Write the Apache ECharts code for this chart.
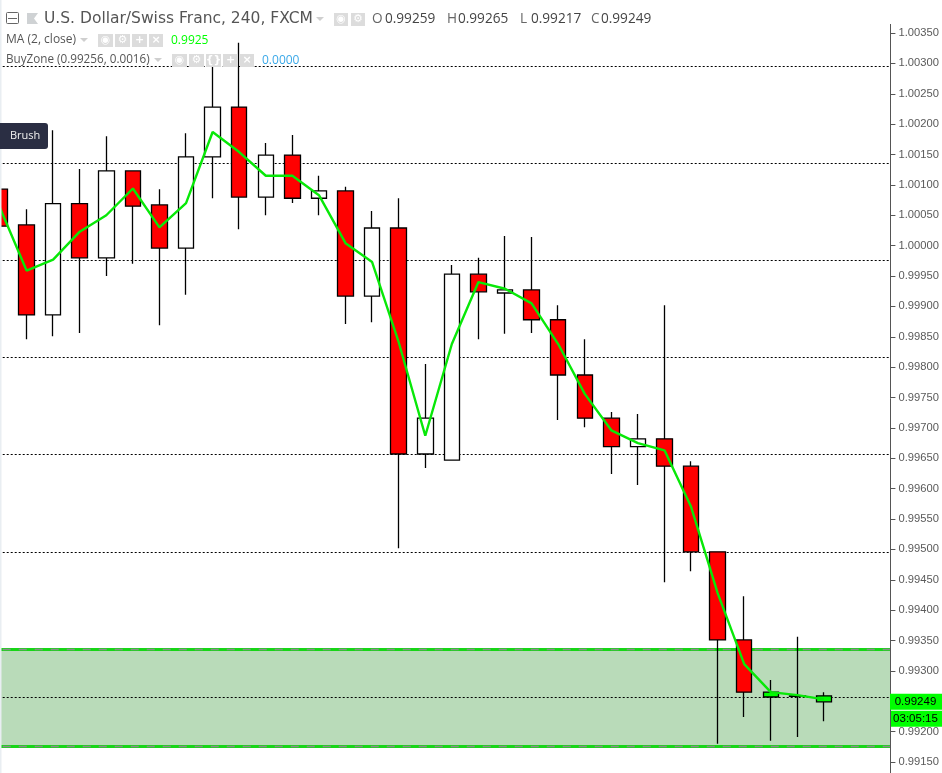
<!DOCTYPE html>
<html><head><meta charset="utf-8">
<style>html,body{margin:0;padding:0;background:#fff}#c{width:942px;height:773px}</style>
<script src="https://cdn.jsdelivr.net/npm/echarts@6/dist/echarts.min.js"></script>
</head><body><div id="c"></div>
<script>
const categories = Array.from('abcdefghijklmnopqrstuvwxyz012345');
const opens  = [1.00093,1.00034,0.99886,1.00069,0.99980,1.00123,1.00067,0.99996,1.00146,1.00228,1.00080,1.00149,1.00078,1.00090,0.99917,1.00029,0.99657,0.99647,0.99953,0.99922,0.99927,0.99878,0.99787,0.99716,0.99669,0.99682,0.99637,0.99496,0.99351,0.99257,0.99258,0.99259];
const closes = [1.00032,0.99886,1.00069,0.99980,1.00123,1.00065,0.99996,1.00146,1.00228,1.00080,1.00149,1.00078,1.00090,0.99917,1.00029,0.99657,0.99716,0.99953,0.99924,0.99927,0.99878,0.99787,0.99716,0.99669,0.99682,0.99637,0.99496,0.99351,0.99265,0.99265,0.99259,0.99249];
const lows   = [1.00032,0.99846,0.99851,0.99856,0.99950,0.99970,0.99869,0.99919,1.00078,1.00027,1.00050,1.00070,1.00050,0.99871,0.99874,0.99502,0.99634,0.99647,0.99846,0.99855,0.99856,0.99713,0.99701,0.99624,0.99606,0.99446,0.99464,0.99180,0.99224,0.99185,0.99191,0.99217];
const highs  = [1.00093,1.00060,1.00190,1.00126,1.00180,1.00124,1.00093,1.00185,1.00306,1.00334,1.00169,1.00182,1.00115,1.00097,1.00057,1.00078,0.99805,0.99968,0.99980,1.00016,1.00014,0.99902,0.99846,0.99726,0.99723,0.99902,0.99645,0.99496,0.99423,0.99285,0.99356,0.99265];
const maValues = [1.00062,0.99959,0.99977,1.00023,1.00050,1.00094,1.00030,1.00070,1.00187,1.00154,1.00115,1.00115,1.00083,1.00004,0.99973,0.99841,0.99687,0.99838,0.99940,0.99929,0.99905,0.99838,0.99756,0.99696,0.99675,0.99663,0.99570,0.99428,0.99311,0.99265,0.99260,0.99253];
const levels = [1.00296,1.00136,0.99976,0.99816,0.99656,0.99496,0.99256];
const zoneTop = 0.99336, zoneBottom = 0.99176;
const lastPrice = 0.99249;
const countdown = '03:05:15';
const titleText = 'U.S. Dollar/Swiss Franc, 240, FXCM';
const maText = 'MA (2, close)', maValueText = '0.9925';
const zoneText = 'BuyZone (0.99256, 0.0016)', zoneValueText = '0.0000';
const ohlc = [['O','0.99259'],['H','0.99265'],['L','0.99217'],['C','0.99249']];
const ohlcLetterX = [372,447,520,591];
const ohlcValueX = [385,458,531,601];
const zoneStart = 29;

const sans = '"Open Sans","Noto Sans",sans-serif';
const chart = echarts.init(document.getElementById('c'), null, {renderer:'canvas'});
const candleData = categories.map((_, i) => {
  const item = {value:[opens[i],closes[i],lows[i],highs[i]]};
  if (i >= zoneStart) item.itemStyle = {color:'#00ff00',color0:'#00ff00',borderColor:'#000',borderColor0:'#000'};
  return item;
});
function txt(x,y,t,size,fill,extra){return Object.assign({type:'text',z:50,x:x,y:y,style:{text:t,fontSize:size,fontFamily:sans,fill:fill,textVerticalAlign:'middle'}},extra||{});}
function box(x,y,w,h,glyph){
  const out=[{type:'rect',z:50,shape:{x:x,y:y,width:w,height:h},style:{fill:'#dcdcdc'}}];
  out.push({type:'text',z:51,x:x+w/2,y:y+h/2,style:{text:glyph,fontSize:11,fontWeight:'bold',fontFamily:'"DejaVu Sans"',fill:'#fff',textAlign:'center',textVerticalAlign:'middle'}});
  return out;
}
function tri(x,y){return {type:'polygon',z:50,shape:{points:[[x,y],[x+8,y],[x+4,y+4]]},style:{fill:'#cfcfcf'}};}
const head=[
 {type:'rect',z:45,shape:{x:0,y:0,width:1.5,height:773},style:{fill:'#e9eef2'}},
 {type:'line',z:40,shape:{x1:890.5,y1:24,x2:890.5,y2:773},style:{stroke:'#555',lineWidth:1}},
 {type:'rect',z:50,shape:{x:6.5,y:12.5,width:12,height:11,r:1},style:{fill:'#fff',stroke:'#666'}},
 {type:'line',z:50,shape:{x1:8,y1:18.5,x2:17,y2:18.5},style:{stroke:'#666'}},
 {type:'polygon',z:50,shape:{points:[[27,13],[38,13],[34,18.5],[38,24],[27,24]]},style:{fill:'#cfd2d4'}},
 txt(44,19,titleText,15.5,'#555',{style:{text:titleText,fontSize:15.5,fontFamily:'"DejaVu Sans"',fill:'#555',textVerticalAlign:'middle'}}),
 tri(316,17),
 ...box(334,13,14,13,'◉'),...box(351,13,14,13,'⚙'),
 txt(6,40,maText,12,'#555'), tri(80,38),
 ...box(98,34,15,13,'◉'),...box(115,34,15,13,'⚙'),...box(132,34,15,13,'+'),...box(149,34,14,13,'×'),
 txt(171,41,maValueText,12,'#00ff00'),
 txt(6,60,zoneText,11.7,'#555'), tri(154,58),
 ...box(172,54,15,13,'◉'),...box(189,54,15,13,'⚙'),...box(206,54,15,13,'{}'),...box(223,54,15,13,'+'),...box(240,54,14,13,'×'),
 txt(262,61,zoneValueText,12,'#3aa8e8'),
 {type:'rect',z:50,shape:{x:-4,y:123,width:52,height:26,r:3},style:{fill:'#2a2e43'}},
 txt(10,136,'Brush',11,'#f0f0f0'),
];
ohlc.forEach((p,i)=>{
  head.push(txt(ohlcLetterX[i],19,p[0],13.6,'#666'));
  head.push(txt(ohlcValueX[i],19,p[1],13.6,'#444'));
});
const hidden = {type:'line',data:maValues,symbol:'none',showSymbol:false,silent:true,lineStyle:{opacity:0},itemStyle:{opacity:0}};
const base = {
  animation:false,
  backgroundColor:'#ffffff',
  grid:{left:-13.3,top:33,width:903.72,height:729,containLabel:false,outerBoundsMode:'none'},
  xAxis:{type:'category',data:categories.concat(['x','y']),show:false,boundaryGap:true},
  yAxis:{type:'value',position:'right',min:0.9915,max:1.0035,interval:0.0005,
    splitLine:{show:false},
    axisLine:{show:false},
    axisTick:{show:true,length:5,lineStyle:{color:'#555',width:1}},
    axisLabel:{show:true,margin:8,color:'#5a5a5a',fontSize:11.2,fontFamily:'"Liberation Sans",Arial,sans-serif',formatter:v=>v.toFixed(5)}},
  series:[
    Object.assign({},hidden,{name:'Zone',z:1,
     markArea:{silent:true,z:1,itemStyle:{color:'#b9dbb9'},data:[[{yAxis:zoneBottom},{yAxis:zoneTop}]]},
     markLine:{silent:true,z:2,precision:5,symbol:'none',label:{show:false},lineStyle:{color:'#16d616',type:'solid',width:3},
       data:[{yAxis:zoneTop},{yAxis:zoneBottom}]}}),
    Object.assign({},hidden,{name:'ZoneDash',z:2,
     markLine:{silent:true,z:3,precision:5,symbol:'none',label:{show:false},lineStyle:{color:'#8a8a8a',type:[8,8],width:1.4},
       data:[{yAxis:zoneTop},{yAxis:zoneBottom}]}}),
    Object.assign({},hidden,{name:'Levels',z:3,
     markLine:{silent:true,z:4,precision:5,symbol:'none',label:{show:false},lineStyle:{color:'#000',type:[2,2],width:1},
       data:levels.map(v=>({yAxis:v}))}}),
    {name:'Price',type:'candlestick',barWidth:16,z:5,data:candleData,
     itemStyle:{color:'#ffffff',color0:'#ff0000',borderColor:'#000',borderColor0:'#000',borderWidth:1.3}},
    {name:'MA',type:'line',z:6,data:maValues,symbol:'none',showSymbol:false,smooth:false,
     lineStyle:{color:'#08e808',width:2.4}}
  ],
  graphic:head
};
chart.setOption(base);
const py = chart.convertToPixel({yAxisIndex:0}, lastPrice);
chart.setOption({graphic:head.concat([
  {type:'rect',z:70,shape:{x:890,y:py-8,width:52,height:16},style:{fill:'#00ff00'}},
  {type:'text',z:71,x:915.5,y:py,style:{text:lastPrice.toFixed(5),fontSize:11.5,fontFamily:'"Liberation Sans",Arial,sans-serif',fill:'#000',textAlign:'center',textVerticalAlign:'middle'}},
  {type:'rect',z:70,shape:{x:891,y:py+9,width:51,height:16},style:{fill:'#00ff00'}},
  {type:'text',z:71,x:915.5,y:py+17,style:{text:countdown,fontSize:11.5,fontFamily:'"Liberation Sans",Arial,sans-serif',fill:'#000',textAlign:'center',textVerticalAlign:'middle'}}
])});
</script></body></html>
